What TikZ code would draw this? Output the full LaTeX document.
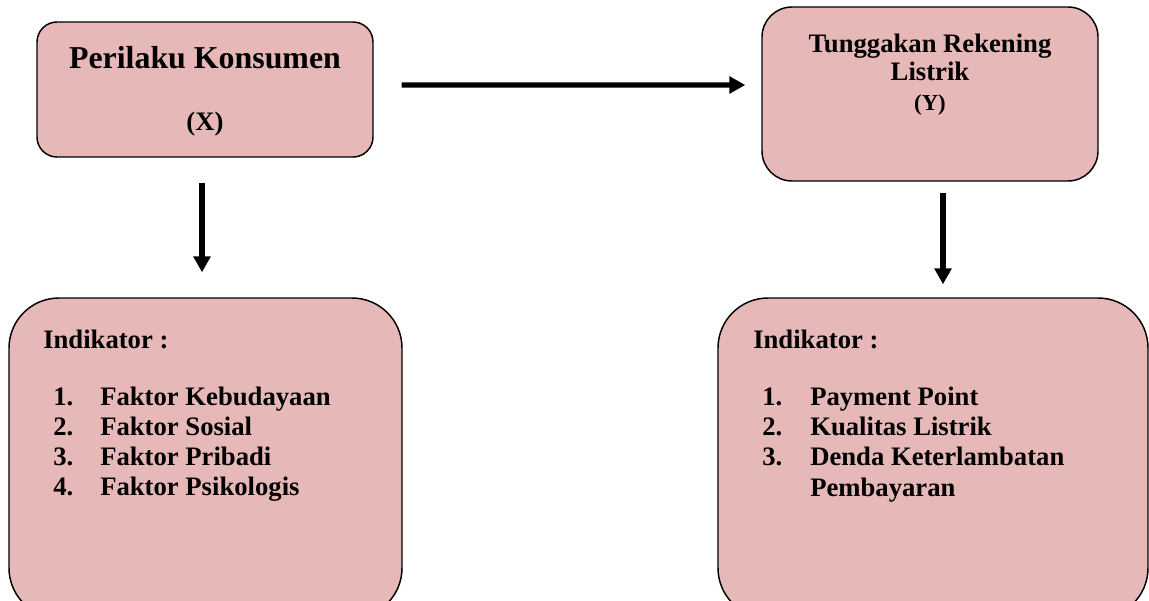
\documentclass[tikz,border=0pt]{standalone}
\usepackage{fontspec}
\setmainfont{Liberation Serif}
\usepackage{tikz}
\usetikzlibrary{arrows.meta,positioning,calc}
\definecolor{Rose}{HTML}{E6B8B7}
\tikzset{
  box/.style={draw=black,fill=Rose,line width=1.1pt,inner sep=0pt},
  head/.style={font=\bfseries\fontsize{23.9}{28}\selectfont,inner sep=0pt},
  item/.style={font=\bfseries\fontsize{20}{22.5}\selectfont,inner sep=0pt},
  small/.style={font=\bfseries\fontsize{17.1}{20}\selectfont,inner sep=0pt},
  arrow/.style={-{Triangle[length=12pt,width=12.5pt]},line width=3.9pt,draw=black}
}
\begin{document}
\begin{tikzpicture}[x=0.75pt,y=-0.75pt]
  \useasboundingbox (0,0) rectangle (1149,600);

  % variable boxes
  \node[box,rounded corners=15pt,minimum width=252pt,minimum height=101.25pt] (konsumen) at (205,89.5) {};
  \node[box,rounded corners=22.5pt,minimum width=252pt,minimum height=130.5pt] (tunggakan) at (930,94) {};
  \node[head,anchor=base] (konsumentitle) at (205,68) {Perilaku Konsumen};
  \node[item,anchor=base] (konsumenvar) at (205,130) {(X)};
  \node[item,anchor=base] (tunggakantitle) at (930,52) {Tunggakan Rekening};
  \node[item,anchor=base] (tunggakantitle2) at (930,80) {Listrik};
  \node[small,anchor=base] (tunggakanvar) at (930,110) {(Y)};

  % indicator boxes
  \node[box,rounded corners=37.5pt,minimum width=294.75pt,minimum height=240pt] (indx) at (205.5,458) {};
  \node[box,rounded corners=37.5pt,minimum width=322.5pt,minimum height=240pt] (indy) at (933,458) {};
  \node[item,anchor=base west] (indxhead) at (43,348) {Indikator :};
  \node[item,anchor=base west] (indyhead) at (753,348) {Indikator :};
  \foreach \t [count=\i] in {Faktor Kebudayaan,Faktor Sosial,Faktor Pribadi,Faktor Psikologis}{
    \node[item,anchor=base west] (xnum\i) at (53,375+30*\i) {\i.};
    \node[item,anchor=base west] (xitem\i) at (100,375+30*\i) {\t};
  }
  \foreach \t [count=\i] in {Payment Point,Kualitas Listrik,Denda Keterlambatan}{
    \node[item,anchor=base west] (ynum\i) at (762,375+30*\i) {\i.};
    \node[item,anchor=base west] (yitem\i) at (810,375+30*\i) {\t};
  }
  \node[item,anchor=base west] (yitem4) at (810,496) {Pembayaran};

  % arrows
  \draw[arrow,shorten <=21pt,shorten >=12pt] ([yshift=3.4pt]konsumen.east) -- ([yshift=6.75pt]tunggakan.west);
  \draw[arrow,shorten <=18.75pt,shorten >=18.75pt] ([xshift=-2.25pt]konsumen.south) -- ([xshift=-2.25pt]konsumen.south |- indx.north);
  \draw[arrow,shorten <=8.25pt,shorten >=9.75pt] ([xshift=9.75pt]tunggakan.south) -- ([xshift=9.75pt]tunggakan.south |- indy.north);
\end{tikzpicture}
\end{document}
